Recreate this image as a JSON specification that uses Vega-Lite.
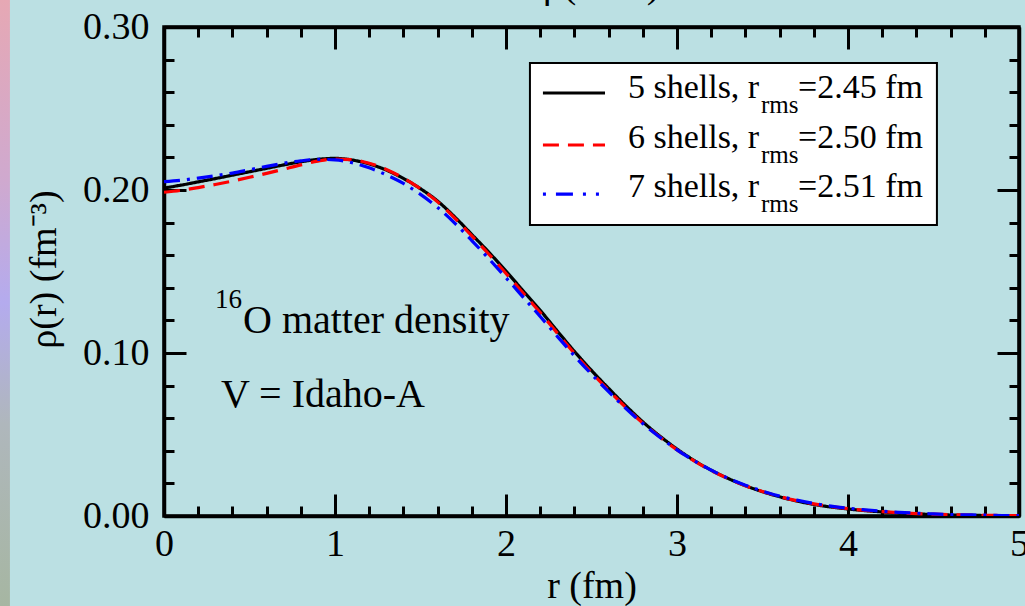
{
  "$schema": "https://vega.github.io/schema/vega-lite/v6.json",
  "width": 855,
  "height": 489,
  "autosize": {"type": "none"},
  "padding": {"left": 164, "top": 27, "right": 6, "bottom": 90},
  "background": "#BBE0E3",
  "config": {
    "view": {"stroke": "black", "strokeWidth": 3.5},
    "font": "Liberation Serif",
    "axis": {
      "domainColor": "black", "domainWidth": 3.5, "tickColor": "black", "tickWidth": 3,
      "labelFont": "Liberation Serif", "labelFontSize": 38, "labelColor": "black",
      "titleFont": "Liberation Serif", "titleFontSize": 38, "titleColor": "black", "titleFontWeight": "normal",
      "grid": false, "labelFlush": false, "labelOverlap": false, "labelBound": false
    }
  },
  "data": {"values": [{}]},
  "datasets": {
    "density": [
      {"series":"5 shells","r":0.0,"rho":0.2012},{"series":"5 shells","r":0.1,"rho":0.2030},{"series":"5 shells","r":0.2,"rho":0.2050},{"series":"5 shells","r":0.3,"rho":0.2070},{"series":"5 shells","r":0.4,"rho":0.2091},{"series":"5 shells","r":0.5,"rho":0.2112},{"series":"5 shells","r":0.6,"rho":0.2133},{"series":"5 shells","r":0.7,"rho":0.2154},{"series":"5 shells","r":0.8,"rho":0.2173},{"series":"5 shells","r":0.9,"rho":0.2188},{"series":"5 shells","r":1.0,"rho":0.2194},{"series":"5 shells","r":1.1,"rho":0.2184},{"series":"5 shells","r":1.2,"rho":0.2160},{"series":"5 shells","r":1.3,"rho":0.2122},{"series":"5 shells","r":1.4,"rho":0.2071},{"series":"5 shells","r":1.5,"rho":0.2008},{"series":"5 shells","r":1.6,"rho":0.1932},{"series":"5 shells","r":1.7,"rho":0.1835},{"series":"5 shells","r":1.8,"rho":0.1727},{"series":"5 shells","r":1.9,"rho":0.1618},{"series":"5 shells","r":2.0,"rho":0.1502},{"series":"5 shells","r":2.1,"rho":0.1382},{"series":"5 shells","r":2.2,"rho":0.1262},{"series":"5 shells","r":2.3,"rho":0.1135},{"series":"5 shells","r":2.4,"rho":0.1010},{"series":"5 shells","r":2.5,"rho":0.0893},{"series":"5 shells","r":2.6,"rho":0.0783},{"series":"5 shells","r":2.7,"rho":0.0677},{"series":"5 shells","r":2.8,"rho":0.0578},{"series":"5 shells","r":2.9,"rho":0.0490},{"series":"5 shells","r":3.0,"rho":0.0411},{"series":"5 shells","r":3.1,"rho":0.0341},{"series":"5 shells","r":3.2,"rho":0.0281},{"series":"5 shells","r":3.3,"rho":0.0230},{"series":"5 shells","r":3.4,"rho":0.0186},{"series":"5 shells","r":3.5,"rho":0.0149},{"series":"5 shells","r":3.6,"rho":0.0118},{"series":"5 shells","r":3.7,"rho":0.0092},{"series":"5 shells","r":3.8,"rho":0.0071},{"series":"5 shells","r":3.9,"rho":0.0055},{"series":"5 shells","r":4.0,"rho":0.0043},{"series":"5 shells","r":4.1,"rho":0.0033},{"series":"5 shells","r":4.2,"rho":0.0025},{"series":"5 shells","r":4.3,"rho":0.0018},{"series":"5 shells","r":4.4,"rho":0.0013},{"series":"5 shells","r":4.5,"rho":0.0009},{"series":"5 shells","r":4.6,"rho":0.0006},{"series":"5 shells","r":4.7,"rho":0.0004},{"series":"5 shells","r":4.8,"rho":0.0003},{"series":"5 shells","r":4.9,"rho":0.0002},{"series":"5 shells","r":5.0,"rho":0.0001},
      {"series":"6 shells","r":0.0,"rho":0.1986},{"series":"6 shells","r":0.1,"rho":0.1998},{"series":"6 shells","r":0.2,"rho":0.2015},{"series":"6 shells","r":0.3,"rho":0.2034},{"series":"6 shells","r":0.4,"rho":0.2055},{"series":"6 shells","r":0.5,"rho":0.2078},{"series":"6 shells","r":0.6,"rho":0.2102},{"series":"6 shells","r":0.7,"rho":0.2128},{"series":"6 shells","r":0.8,"rho":0.2154},{"series":"6 shells","r":0.9,"rho":0.2177},{"series":"6 shells","r":1.0,"rho":0.2190},{"series":"6 shells","r":1.1,"rho":0.2186},{"series":"6 shells","r":1.2,"rho":0.2164},{"series":"6 shells","r":1.3,"rho":0.2126},{"series":"6 shells","r":1.4,"rho":0.2073},{"series":"6 shells","r":1.5,"rho":0.2007},{"series":"6 shells","r":1.6,"rho":0.1927},{"series":"6 shells","r":1.7,"rho":0.1828},{"series":"6 shells","r":1.8,"rho":0.1718},{"series":"6 shells","r":1.9,"rho":0.1606},{"series":"6 shells","r":2.0,"rho":0.1488},{"series":"6 shells","r":2.1,"rho":0.1368},{"series":"6 shells","r":2.2,"rho":0.1248},{"series":"6 shells","r":2.3,"rho":0.1122},{"series":"6 shells","r":2.4,"rho":0.0998},{"series":"6 shells","r":2.5,"rho":0.0880},{"series":"6 shells","r":2.6,"rho":0.0771},{"series":"6 shells","r":2.7,"rho":0.0667},{"series":"6 shells","r":2.8,"rho":0.0570},{"series":"6 shells","r":2.9,"rho":0.0484},{"series":"6 shells","r":3.0,"rho":0.0406},{"series":"6 shells","r":3.1,"rho":0.0338},{"series":"6 shells","r":3.2,"rho":0.0279},{"series":"6 shells","r":3.3,"rho":0.0229},{"series":"6 shells","r":3.4,"rho":0.0186},{"series":"6 shells","r":3.5,"rho":0.0150},{"series":"6 shells","r":3.6,"rho":0.0119},{"series":"6 shells","r":3.7,"rho":0.0094},{"series":"6 shells","r":3.8,"rho":0.0074},{"series":"6 shells","r":3.9,"rho":0.0058},{"series":"6 shells","r":4.0,"rho":0.0045},{"series":"6 shells","r":4.1,"rho":0.0035},{"series":"6 shells","r":4.2,"rho":0.0027},{"series":"6 shells","r":4.3,"rho":0.0020},{"series":"6 shells","r":4.4,"rho":0.0015},{"series":"6 shells","r":4.5,"rho":0.0011},{"series":"6 shells","r":4.6,"rho":0.0008},{"series":"6 shells","r":4.7,"rho":0.0006},{"series":"6 shells","r":4.8,"rho":0.0004},{"series":"6 shells","r":4.9,"rho":0.0003},{"series":"6 shells","r":5.0,"rho":0.0002},
      {"series":"7 shells","r":0.0,"rho":0.2051},{"series":"7 shells","r":0.1,"rho":0.2060},{"series":"7 shells","r":0.2,"rho":0.2073},{"series":"7 shells","r":0.3,"rho":0.2088},{"series":"7 shells","r":0.4,"rho":0.2104},{"series":"7 shells","r":0.5,"rho":0.2124},{"series":"7 shells","r":0.6,"rho":0.2145},{"series":"7 shells","r":0.7,"rho":0.2164},{"series":"7 shells","r":0.8,"rho":0.2179},{"series":"7 shells","r":0.9,"rho":0.2188},{"series":"7 shells","r":1.0,"rho":0.2185},{"series":"7 shells","r":1.1,"rho":0.2167},{"series":"7 shells","r":1.2,"rho":0.2136},{"series":"7 shells","r":1.3,"rho":0.2093},{"series":"7 shells","r":1.4,"rho":0.2040},{"series":"7 shells","r":1.5,"rho":0.1973},{"series":"7 shells","r":1.6,"rho":0.1893},{"series":"7 shells","r":1.7,"rho":0.1797},{"series":"7 shells","r":1.8,"rho":0.1690},{"series":"7 shells","r":1.9,"rho":0.1578},{"series":"7 shells","r":2.0,"rho":0.1462},{"series":"7 shells","r":2.1,"rho":0.1343},{"series":"7 shells","r":2.2,"rho":0.1224},{"series":"7 shells","r":2.3,"rho":0.1102},{"series":"7 shells","r":2.4,"rho":0.0983},{"series":"7 shells","r":2.5,"rho":0.0870},{"series":"7 shells","r":2.6,"rho":0.0763},{"series":"7 shells","r":2.7,"rho":0.0661},{"series":"7 shells","r":2.8,"rho":0.0567},{"series":"7 shells","r":2.9,"rho":0.0483},{"series":"7 shells","r":3.0,"rho":0.0406},{"series":"7 shells","r":3.1,"rho":0.0339},{"series":"7 shells","r":3.2,"rho":0.0281},{"series":"7 shells","r":3.3,"rho":0.0231},{"series":"7 shells","r":3.4,"rho":0.0189},{"series":"7 shells","r":3.5,"rho":0.0153},{"series":"7 shells","r":3.6,"rho":0.0122},{"series":"7 shells","r":3.7,"rho":0.0097},{"series":"7 shells","r":3.8,"rho":0.0077},{"series":"7 shells","r":3.9,"rho":0.0061},{"series":"7 shells","r":4.0,"rho":0.0048},{"series":"7 shells","r":4.1,"rho":0.0038},{"series":"7 shells","r":4.2,"rho":0.0029},{"series":"7 shells","r":4.3,"rho":0.0022},{"series":"7 shells","r":4.4,"rho":0.0017},{"series":"7 shells","r":4.5,"rho":0.0013},{"series":"7 shells","r":4.6,"rho":0.0009},{"series":"7 shells","r":4.7,"rho":0.0007},{"series":"7 shells","r":4.8,"rho":0.0005},{"series":"7 shells","r":4.9,"rho":0.0003},{"series":"7 shells","r":5.0,"rho":0.0002}
    ]
  },
  "resolve": {"axis": {"x": "independent", "y": "independent"}},
  "layer": [
    {
      "data": {"name": "density"},
      "mark": {"type": "line", "strokeWidth": 3.2, "interpolate": "monotone", "clip": true},
      "encoding": {
        "x": {
          "field": "r", "type": "quantitative",
          "scale": {"domain": [0, 5], "nice": false, "zero": false},
          "axis": {
            "orient": "bottom",
            "values": [0,0.2,0.4,0.6,0.8,1,1.2,1.4,1.6,1.8,2,2.2,2.4,2.6,2.8,3,3.2,3.4,3.6,3.8,4,4.2,4.4,4.6,4.8,5],
            "tickSize": {"condition": {"test": "abs(datum.value - round(datum.value)) < 0.001", "value": -22}, "value": -10},
            "labelExpr": "abs(datum.value - round(datum.value)) < 0.001 ? format(datum.value, 'd') : ''",
            "labelBaseline": "alphabetic",
            "labelPadding": 61,
            "title": "r (fm)",
            "titleX": 427.5,
            "titleY": 81,
            "titleBaseline": "alphabetic",
            "titleAlign": "center"
          }
        },
        "y": {
          "field": "rho", "type": "quantitative",
          "scale": {"domain": [0, 0.3], "nice": false, "zero": false},
          "axis": {
            "orient": "left",
            "values": [0,0.02,0.04,0.06,0.08,0.1,0.12,0.14,0.16,0.18,0.2,0.22,0.24,0.26,0.28,0.3],
            "tickSize": {"condition": {"test": "abs(datum.value*10 - round(datum.value*10)) < 0.001", "value": -22}, "value": -10},
            "labelExpr": "abs(datum.value*10 - round(datum.value*10)) < 0.001 ? format(datum.value, '.2f') : ''",
            "labelBaseline": "middle",
            "labelPadding": 37,
            "title": "ρ(r) (fm⁻³)",
            "titleAngle": 270,
            "titleX": -109,
            "titleY": 242,
            "titleBaseline": "alphabetic",
            "titleAlign": "center"
          }
        },
        "color": {
          "field": "series", "type": "nominal",
          "scale": {"domain": ["5 shells", "6 shells", "7 shells"], "range": ["#000000", "#FF0000", "#0000FF"]},
          "legend": null
        },
        "strokeDash": {
          "field": "series", "type": "nominal",
          "scale": {"domain": ["5 shells", "6 shells", "7 shells"], "range": [[1, 0], [16, 9], [16, 7, 3, 7]]},
          "legend": null
        }
      }
    },
    {
      "mark": {"type": "rect", "fill": "white", "stroke": "black", "strokeWidth": 2},
      "encoding": {
        "x": {
          "datum": 2.14, "type": "quantitative",
          "axis": {
            "orient": "top",
            "values": [0,0.2,0.4,0.6,0.8,1,1.2,1.4,1.6,1.8,2,2.2,2.4,2.6,2.8,3,3.2,3.4,3.6,3.8,4,4.2,4.4,4.6,4.8,5],
            "tickSize": {"condition": {"test": "abs(datum.value - round(datum.value)) < 0.001", "value": -22}, "value": -10},
            "labels": false,
            "title": null
          }
        },
        "x2": {"datum": 4.52},
        "y": {
          "datum": 0.2779, "type": "quantitative",
          "axis": {
            "orient": "right",
            "values": [0,0.02,0.04,0.06,0.08,0.1,0.12,0.14,0.16,0.18,0.2,0.22,0.24,0.26,0.28,0.3],
            "tickSize": {"condition": {"test": "abs(datum.value*10 - round(datum.value*10)) < 0.001", "value": -22}, "value": -10},
            "labels": false,
            "title": null
          }
        },
        "y2": {"datum": 0.1785}
      }
    },
    {
      "layer": [
        {
          "mark": {"type": "rect", "fill": {"gradient": "linear", "x1": 0, "y1": 0, "x2": 0, "y2": 1, "stops": [{"offset": 0, "color": "#E6A8B4"}, {"offset": 0.3, "color": "#CFA9CF"}, {"offset": 0.5, "color": "#B4ABEE"}, {"offset": 0.7, "color": "#AFB7BC"}, {"offset": 1, "color": "#A6B6A2"}]}},
          "encoding": {
            "x": {"datum": -0.959, "type": "quantitative", "axis": null},
            "x2": {"datum": -0.901},
            "y": {"datum": 0.3166, "type": "quantitative", "axis": null},
            "y2": {"datum": -0.0552}
          }
        },
        {
          "mark": {"type": "text", "text": "ρ(fm⁻³)", "align": "left", "baseline": "alphabetic", "fontSize": 40, "font": "Liberation Serif", "color": "black"},
          "encoding": {
            "x": {"datum": 2.216, "type": "quantitative", "axis": null},
            "y": {"datum": 0.3184, "type": "quantitative", "axis": null}
          }
        },
        {
          "mark": {"type": "rule", "color": "black", "strokeWidth": 3.2},
          "encoding": {
            "x": {"datum": 2.216, "type": "quantitative", "axis": null},
            "x2": {"datum": 2.579},
            "y": {"datum": 0.2595, "type": "quantitative", "axis": null}
          }
        },
        {
          "mark": {"type": "rule", "color": "#FF0000", "strokeWidth": 3.2, "strokeDash": [16, 9]},
          "encoding": {
            "x": {"datum": 2.216, "type": "quantitative", "axis": null},
            "x2": {"datum": 2.579},
            "y": {"datum": 0.2276, "type": "quantitative", "axis": null}
          }
        },
        {
          "mark": {"type": "rule", "color": "#0000FF", "strokeWidth": 3.2, "strokeDash": [3, 10, 17, 10, 3, 10]},
          "encoding": {
            "x": {"datum": 2.216, "type": "quantitative", "axis": null},
            "x2": {"datum": 2.579},
            "y": {"datum": 0.1975, "type": "quantitative", "axis": null}
          }
        },
        {
          "mark": {"type": "text", "text": "5 shells, r", "align": "left", "baseline": "alphabetic", "fontSize": 34, "font": "Liberation Serif", "color": "black"},
          "encoding": {"x": {"datum": 2.713, "type": "quantitative", "axis": null}, "y": {"datum": 0.2564, "type": "quantitative", "axis": null}}
        },
        {
          "mark": {"type": "text", "text": "rms", "align": "left", "baseline": "alphabetic", "fontSize": 25, "font": "Liberation Serif", "color": "black"},
          "encoding": {"x": {"datum": 3.491, "type": "quantitative", "axis": null}, "y": {"datum": 0.2472, "type": "quantitative", "axis": null}}
        },
        {
          "mark": {"type": "text", "text": "=2.45 fm", "align": "left", "baseline": "alphabetic", "fontSize": 34, "font": "Liberation Serif", "color": "black"},
          "encoding": {"x": {"datum": 3.708, "type": "quantitative", "axis": null}, "y": {"datum": 0.2564, "type": "quantitative", "axis": null}}
        },
        {
          "mark": {"type": "text", "text": "6 shells, r", "align": "left", "baseline": "alphabetic", "fontSize": 34, "font": "Liberation Serif", "color": "black"},
          "encoding": {"x": {"datum": 2.713, "type": "quantitative", "axis": null}, "y": {"datum": 0.2258, "type": "quantitative", "axis": null}}
        },
        {
          "mark": {"type": "text", "text": "rms", "align": "left", "baseline": "alphabetic", "fontSize": 25, "font": "Liberation Serif", "color": "black"},
          "encoding": {"x": {"datum": 3.491, "type": "quantitative", "axis": null}, "y": {"datum": 0.2166, "type": "quantitative", "axis": null}}
        },
        {
          "mark": {"type": "text", "text": "=2.50 fm", "align": "left", "baseline": "alphabetic", "fontSize": 34, "font": "Liberation Serif", "color": "black"},
          "encoding": {"x": {"datum": 3.708, "type": "quantitative", "axis": null}, "y": {"datum": 0.2258, "type": "quantitative", "axis": null}}
        },
        {
          "mark": {"type": "text", "text": "7 shells, r", "align": "left", "baseline": "alphabetic", "fontSize": 34, "font": "Liberation Serif", "color": "black"},
          "encoding": {"x": {"datum": 2.713, "type": "quantitative", "axis": null}, "y": {"datum": 0.1957, "type": "quantitative", "axis": null}}
        },
        {
          "mark": {"type": "text", "text": "rms", "align": "left", "baseline": "alphabetic", "fontSize": 25, "font": "Liberation Serif", "color": "black"},
          "encoding": {"x": {"datum": 3.491, "type": "quantitative", "axis": null}, "y": {"datum": 0.1865, "type": "quantitative", "axis": null}}
        },
        {
          "mark": {"type": "text", "text": "=2.51 fm", "align": "left", "baseline": "alphabetic", "fontSize": 34, "font": "Liberation Serif", "color": "black"},
          "encoding": {"x": {"datum": 3.708, "type": "quantitative", "axis": null}, "y": {"datum": 0.1957, "type": "quantitative", "axis": null}}
        },
        {
          "mark": {"type": "text", "text": "16", "align": "left", "baseline": "alphabetic", "fontSize": 27, "font": "Liberation Serif", "color": "black"},
          "encoding": {"x": {"datum": 0.298, "type": "quantitative", "axis": null}, "y": {"datum": 0.1278, "type": "quantitative", "axis": null}}
        },
        {
          "mark": {"type": "text", "text": "O matter density", "align": "left", "baseline": "alphabetic", "fontSize": 40, "font": "Liberation Serif", "color": "black"},
          "encoding": {"x": {"datum": 0.462, "type": "quantitative", "axis": null}, "y": {"datum": 0.1123, "type": "quantitative", "axis": null}}
        },
        {
          "mark": {"type": "text", "text": "V = Idaho-A", "align": "left", "baseline": "alphabetic", "fontSize": 40, "font": "Liberation Serif", "color": "black"},
          "encoding": {"x": {"datum": 0.333, "type": "quantitative", "axis": null}, "y": {"datum": 0.0669, "type": "quantitative", "axis": null}}
        }
      ]
    }
  ]
}
